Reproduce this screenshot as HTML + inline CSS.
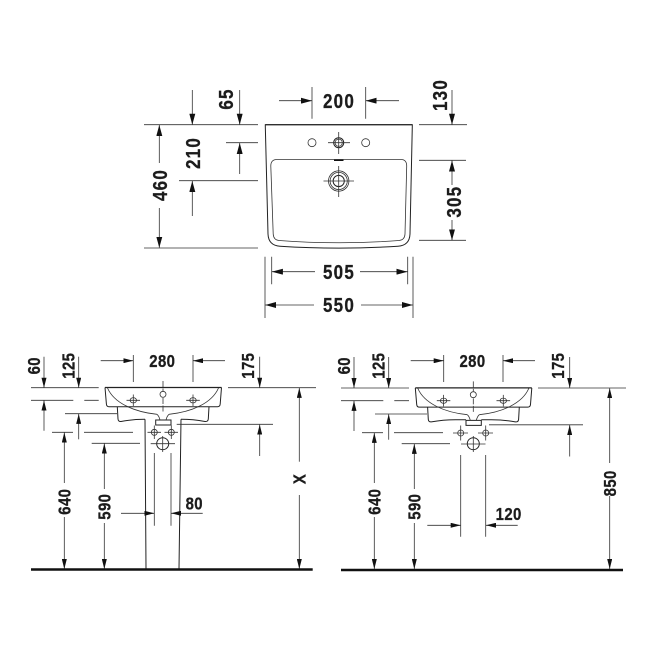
<!DOCTYPE html>
<html><head><meta charset="utf-8"><style>
html,body{margin:0;padding:0;background:#fff;width:650px;height:650px;overflow:hidden}
svg{display:block}
text{font-family:"Liberation Sans",sans-serif;font-weight:bold;fill:#1c1c1c;stroke:#1c1c1c;stroke-width:.3;text-anchor:middle}
.b{font-size:20px;letter-spacing:1.4px}.s{font-size:17.5px;letter-spacing:.5px}
.l line,.l path,.l circle,.l ellipse{fill:none;stroke:#333;stroke-width:.8}
.l .d{stroke:#222;stroke-width:1.2}
.l .t{stroke:#222;stroke-width:1}
.l .g{stroke:#111;stroke-width:2.4}
.l .k{stroke:#111;stroke-width:1.6}
</style></head><body>
<svg width="650" height="650" viewBox="0 0 650 650" xmlns="http://www.w3.org/2000/svg">
<defs>
<marker id="a" markerUnits="userSpaceOnUse" markerWidth="11" markerHeight="6" viewBox="0 0 11 6" refX="11" refY="3" orient="auto"><path d="M0,0L11,3L0,6z" fill="#111" stroke="none"/></marker>
<marker id="c" markerUnits="userSpaceOnUse" markerWidth="10" markerHeight="5" viewBox="0 0 10 5" refX="10" refY="2.5" orient="auto"><path d="M0,0L10,2.5L0,5z" fill="#111" stroke="none"/></marker>
</defs>

<g class="l">
<!-- top view -->
<path class="t" d="M265.3,124.7H412.3L412.3,126L410,234Q409.5,245.5 398,246.2Q339,250 280,246.2Q268.5,245.5 268,234L265.3,126Z"/>
<path class="d" d="M265.3,124.7H412.3"/>
<path d="M277,159.5H401Q406.7,159.5 406.7,166L405,234Q404.7,240 399,240.5Q339,245 279,240.5Q273.6,240 273.2,234L270.8,166Q270.8,159.5 277,159.5Z"/>
<path class="k" d="M334,160.2H343.5"/>
<circle cx="312" cy="142.7" r="4"/><circle cx="365.7" cy="142.7" r="4"/>
<circle cx="338.7" cy="142.7" r="5" class="t"/><circle cx="338.7" cy="142.7" r="3.6"/>
<path d="M328,142.7H350M338.7,132V154"/>
<circle cx="338.7" cy="181" r="10.2"/><circle cx="338.7" cy="181" r="8.6"/><circle cx="338.7" cy="181" r="5.6" class="t"/>
<path d="M323.5,181H354M338.7,166V197"/>
<!-- extension lines -->
<path d="M144,124.7H258M419,124.7H467M144,248H258M226,142.7H258M179,180.7H258M419,160.3H466M419,240.3H466"/>
<path d="M312,87V118.7M365.7,87V118.7M271.7,256.7V284.3M407.7,256.7V284.3M265,256.7V318M413,256.7V318"/>
<line x1="159.3" y1="163" x2="159.3" y2="125" marker-end="url(#a)"/>
<line x1="159.3" y1="208" x2="159.3" y2="247.8" marker-end="url(#a)"/>
<line x1="192.3" y1="90" x2="192.3" y2="124.7" marker-end="url(#a)"/>
<line x1="239.7" y1="90" x2="239.7" y2="124.7" marker-end="url(#a)"/>
<line x1="239.7" y1="174" x2="239.7" y2="143" marker-end="url(#a)"/>
<line x1="192.3" y1="216" x2="192.3" y2="181" marker-end="url(#a)"/>
<line x1="452" y1="90" x2="452" y2="124.7" marker-end="url(#a)"/>
<line x1="452" y1="185" x2="452" y2="160.5" marker-end="url(#a)"/>
<line x1="452" y1="220" x2="452" y2="240.3" marker-end="url(#a)"/>
<line x1="279" y1="100.7" x2="312" y2="100.7" marker-end="url(#a)"/>
<line x1="399" y1="100.7" x2="365.7" y2="100.7" marker-end="url(#a)"/>
<line x1="315" y1="271.7" x2="271.9" y2="271.7" marker-end="url(#a)"/>
<line x1="360" y1="271.7" x2="407.5" y2="271.7" marker-end="url(#a)"/>
<line x1="314" y1="305" x2="265.2" y2="305" marker-end="url(#a)"/>
<line x1="361" y1="305" x2="412.8" y2="305" marker-end="url(#a)"/>

<!-- left elevation: basin -->
<path class="d" d="M105,387.5H221.5"/>
<path class="t" d="M105,387.5L106.4,404Q106.6,406.7 109,406.7H217.5Q220,406.7 220.2,404L221.5,387.5"/>
<path d="M107.5,388C114,403 134,412 157,414.3M218.5,388C212,403 192,412 169,414.3"/>
<path class="t" d="M117.3,406.7L118,419Q118.3,421.8 121,421.5C128,420.2 136,419.3 145,419.3M209,406.7L208.3,419Q208,421.8 205,421.5C198,420.2 190,419.3 181,419.3"/>
<path d="M157,414.3Q159,416 160,420M169,414.3Q167,416 166,420"/>
<path class="t" d="M155.7,420H171V425H155.7Z"/>
<circle cx="163" cy="394.3" r="3"/>
<ellipse cx="133.3" cy="400.3" rx="3.2" ry="2.6"/><ellipse cx="193" cy="400.3" rx="3.2" ry="2.6"/>
<path d="M126.5,400.3H140M133.3,394.5V406M186.2,400.3H199.8M193,394.5V406"/>
<path d="M163,381V391M163,398V413" stroke-dasharray="6 1.5"/>
<circle cx="162.7" cy="443.7" r="6" class="t"/>
<!-- left elevation: dims -->
<path d="M31,387.7H98.7M228,387.7H316M31,400.3H73.3M84.3,400.3H98.7M65,413.7H117M52,432.3H73M84,432.3H133M91.7,443.3H140"/>
<line x1="44" y1="356.7" x2="44" y2="387.7" marker-end="url(#c)"/>
<line x1="44" y1="430.7" x2="44" y2="400.5" marker-end="url(#c)"/>
<line x1="78.7" y1="356.7" x2="78.7" y2="387.7" marker-end="url(#c)"/>
<line x1="78.7" y1="439.3" x2="78.7" y2="413.9" marker-end="url(#c)"/>
<line x1="64.3" y1="483" x2="64.3" y2="432.5" marker-end="url(#c)"/>
<line x1="64.3" y1="517" x2="64.3" y2="569" marker-end="url(#c)"/>
<line x1="104.3" y1="489" x2="104.3" y2="443.5" marker-end="url(#c)"/>
<line x1="104.3" y1="523" x2="104.3" y2="569" marker-end="url(#c)"/>
<path d="M133.3,355V382M193,355V382"/>
<line x1="100.7" y1="360.7" x2="133.3" y2="360.7" marker-end="url(#c)"/>
<line x1="225" y1="360.7" x2="193" y2="360.7" marker-end="url(#c)"/>
<line x1="259.7" y1="356.7" x2="259.7" y2="387.7" marker-end="url(#c)"/>
<line x1="259.7" y1="456" x2="259.7" y2="424.6" marker-end="url(#c)"/>
<line x1="299.3" y1="461.7" x2="299.3" y2="387.9" marker-end="url(#c)"/>
<line x1="299.3" y1="495" x2="299.3" y2="569" marker-end="url(#c)"/>
<path class="t" d="M145,419.3L146,569M181,419.3L179,569"/>
<path d="M154.3,453V525.7M171,453V525.7"/>
<path d="M176.7,424.3H273"/>
<circle cx="154.3" cy="432.3" r="3"/><circle cx="171.3" cy="432.3" r="3"/>
<path d="M147.5,432.3H161M154.3,425.5V439M164.5,432.3H178M171.3,425.5V439"/>
<path d="M150.7,443.7H175M162.7,436V452"/>
<line x1="121" y1="513.3" x2="154.3" y2="513.3" marker-end="url(#c)"/>
<line x1="202.7" y1="513.3" x2="171" y2="513.3" marker-end="url(#c)"/>
<path class="g" d="M31,569.5H312.7"/>

<!-- right elevation: basin -->
<g transform="translate(310.3,.4)">
<path class="d" d="M105,387.5H221.5"/>
<path class="t" d="M105,387.5L106.4,404Q106.6,406.7 109,406.7H217.5Q220,406.7 220.2,404L221.5,387.5"/>
<path d="M107.5,388C114,403 134,412 157,414.3M218.5,388C212,403 192,412 169,414.3"/>
<path class="t" d="M117.3,406.7L118,419Q118.3,421.8 121,421.5C128,420.2 136,419.3 145,419.3H155.7M209,406.7L208.3,419Q208,421.8 205,421.5C198,420.2 190,419.3 181,419.3H171"/>
<path d="M157,414.3Q159,416 160,420M169,414.3Q167,416 166,420"/>
<path class="t" d="M155.7,420H171V425H155.7Z"/>
<circle cx="163" cy="394.3" r="3"/>
<ellipse cx="133.3" cy="400.3" rx="3.2" ry="2.6"/><ellipse cx="193" cy="400.3" rx="3.2" ry="2.6"/>
<path d="M126.5,400.3H140M133.3,394.5V406M186.2,400.3H199.8M193,394.5V406"/>
<path d="M163,381V391M163,398V413" stroke-dasharray="6 1.5"/>
<circle cx="163" cy="443.3" r="6" class="t"/>
</g>
<!-- right elevation: dims -->
<path d="M341,388H409M538,388H626M341,400.7H383.3M394.3,400.7H409M375,414H427M362,432.7H383M394,432.7H443M401.7,443.7H450"/>
<line x1="354" y1="357" x2="354" y2="388" marker-end="url(#c)"/>
<line x1="354" y1="431" x2="354" y2="400.9" marker-end="url(#c)"/>
<line x1="388.7" y1="357" x2="388.7" y2="388" marker-end="url(#c)"/>
<line x1="388.7" y1="439.7" x2="388.7" y2="414.2" marker-end="url(#c)"/>
<line x1="374.3" y1="483" x2="374.3" y2="432.9" marker-end="url(#c)"/>
<line x1="374.3" y1="517" x2="374.3" y2="569" marker-end="url(#c)"/>
<line x1="414.3" y1="489" x2="414.3" y2="443.9" marker-end="url(#c)"/>
<line x1="414.3" y1="523" x2="414.3" y2="569" marker-end="url(#c)"/>
<path d="M443.7,355V382M503,355V382"/>
<line x1="410.7" y1="360.7" x2="443.7" y2="360.7" marker-end="url(#c)"/>
<line x1="535" y1="360.7" x2="503" y2="360.7" marker-end="url(#c)"/>
<line x1="569.7" y1="357" x2="569.7" y2="388" marker-end="url(#c)"/>
<line x1="569.7" y1="456.5" x2="569.7" y2="425" marker-end="url(#c)"/>
<line x1="609.7" y1="463" x2="609.7" y2="388.2" marker-end="url(#c)"/>
<line x1="609.7" y1="496" x2="609.7" y2="569" marker-end="url(#c)"/>
<path d="M489,424.8H583"/>
<circle cx="460.7" cy="433" r="3"/><circle cx="485.7" cy="433" r="3"/>
<path d="M453,433H468M460.7,425.5V440.5M478,433H493M485.7,425.5V440.5"/>
<path d="M461,444H485.5M473.3,436V452"/>
<path d="M460.7,455V536.7M485.7,455V536.7"/>
<line x1="427.3" y1="525.3" x2="460.7" y2="525.3" marker-end="url(#c)"/>
<line x1="517.7" y1="525.3" x2="486" y2="525.3" marker-end="url(#c)"/>
<path class="g" d="M341,570H623"/>
</g>

<!-- top labels -->
<text class="b" transform="translate(339,107.8) scale(.85,1)">200</text>
<text class="b" transform="translate(339,278.8) scale(.85,1)">505</text>
<text class="b" transform="translate(339,312) scale(.85,1)">550</text>
<text class="b" transform="translate(226,99) rotate(-90) scale(.85,1)" y="7">65</text>
<text class="b" transform="translate(440,95) rotate(-90) scale(.85,1)" y="7">130</text>
<text class="b" transform="translate(193,153) rotate(-90) scale(.85,1)" y="7">210</text>
<text class="b" transform="translate(160,185) rotate(-90) scale(.85,1)" y="7">460</text>
<text class="b" transform="translate(454,201.7) rotate(-90) scale(.85,1)" y="7">305</text>
<!-- left labels -->
<text class="s" transform="translate(162.3,367) scale(.85,1)">280</text>
<text class="s" transform="translate(194.3,509.5) scale(.85,1)">80</text>
<text class="s" transform="translate(34,365.7) rotate(-90) scale(.85,1)" y="6.2">60</text>
<text class="s" transform="translate(68.3,365.7) rotate(-90) scale(.85,1)" y="6.2">125</text>
<text class="s" transform="translate(247.7,365.7) rotate(-90) scale(.85,1)" y="6.2">175</text>
<text class="s" transform="translate(64.3,501.7) rotate(-90) scale(.85,1)" y="6.2">640</text>
<text class="s" transform="translate(104.3,506.7) rotate(-90) scale(.85,1)" y="6.2">590</text>
<text class="s" transform="translate(299.3,479) rotate(-90) scale(.85,1)" y="6.2">X</text>
<!-- right labels -->
<text class="s" transform="translate(472.5,367) scale(.85,1)">280</text>
<text class="s" transform="translate(508.7,520) scale(.85,1)">120</text>
<text class="s" transform="translate(344,365.7) rotate(-90) scale(.85,1)" y="6.2">60</text>
<text class="s" transform="translate(378.3,365.7) rotate(-90) scale(.85,1)" y="6.2">125</text>
<text class="s" transform="translate(558,365.7) rotate(-90) scale(.85,1)" y="6.2">175</text>
<text class="s" transform="translate(374.3,501.7) rotate(-90) scale(.85,1)" y="6.2">640</text>
<text class="s" transform="translate(414.3,506.7) rotate(-90) scale(.85,1)" y="6.2">590</text>
<text class="s" transform="translate(609.7,483.3) rotate(-90) scale(.85,1)" y="6.2">850</text>
</svg>
</body></html>
